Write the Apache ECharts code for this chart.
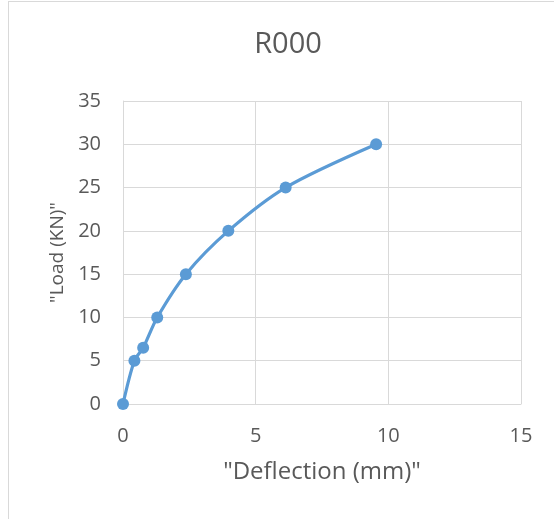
<!DOCTYPE html>
<html><head><meta charset="utf-8">
<script src="https://cdn.jsdelivr.net/npm/echarts@6/dist/echarts.min.js"></script>
<style>
html,body{margin:0;padding:0;background:#fff;}
#frame{position:absolute;left:8px;top:1px;width:560px;height:530px;border:1px solid #d9d9d9;box-sizing:border-box;}
#c{position:absolute;left:0;top:0;width:554px;height:519px;}
</style></head><body>
<div id="frame"></div>
<div id="c"></div>
<script>
const chartTitle = "R000";
const xName = '"Deflection (mm)"';
const yName = '"Load (KN)"';
const deflection = [0, 0.43, 0.76, 1.29, 2.37, 3.97, 6.13, 9.54];
const load = [0, 5, 6.5, 10, 15, 20, 25, 30];
const xTicks = {min: 0, max: 15, interval: 5};
const yTicks = {min: 0, max: 35, interval: 5};

const chart = echarts.init(document.getElementById('c'), null, {renderer: 'canvas'});
const font = '"Open Sans", "Noto Sans", sans-serif';
const gridColor = '#d9d9d9';
const txt = '#595959';
chart.setOption({
  animation: false,
  title: {text: chartTitle, left: 283, top: 25, textAlign: 'center',
    textStyle: {fontFamily: font, fontSize: 29, fontWeight: 'normal', color: txt}},
  grid: {left: 123, right: 33, top: 101, bottom: 115, containLabel: false},
  xAxis: {type: 'value', min: xTicks.min, max: xTicks.max, interval: xTicks.interval,
    name: xName, nameLocation: 'middle', nameGap: 56,
    nameTextStyle: {fontFamily: font, fontSize: 24, color: txt},
    axisLine: {show: true, lineStyle: {color: gridColor, width: 1}},
    axisTick: {show: false},
    axisLabel: {fontFamily: font, fontSize: 20, color: txt, margin: 22},
    splitLine: {show: true, lineStyle: {color: gridColor, width: 1}}},
  yAxis: {type: 'value', min: yTicks.min, max: yTicks.max, interval: yTicks.interval,
    name: yName, nameLocation: 'middle', nameGap: 55, nameRotate: 90,
    nameTextStyle: {fontFamily: font, fontSize: 19, color: txt},
    axisLine: {show: true, lineStyle: {color: gridColor, width: 1}},
    axisTick: {show: false},
    axisLabel: {fontFamily: font, fontSize: 20, color: txt, margin: 22},
    splitLine: {show: true, lineStyle: {color: gridColor, width: 1}}},
  series: [{type: 'line', data: deflection.map((d, i) => [d, load[i]]),
    smooth: 0.3, symbol: 'circle', symbolSize: 12,
    lineStyle: {color: '#5b9bd5', width: 3.2},
    itemStyle: {color: '#5b9bd5'}}]
});
</script>
</body></html>
